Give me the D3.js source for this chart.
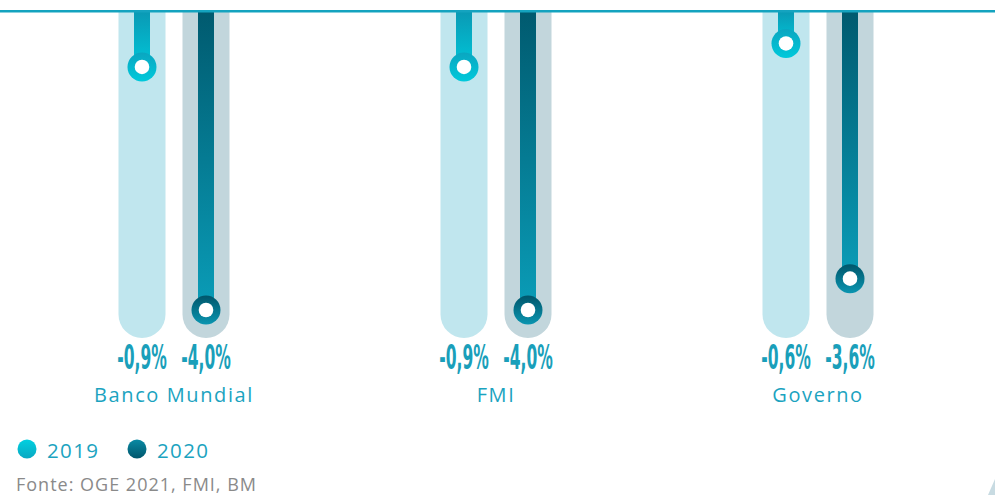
<!DOCTYPE html>
<html><head><meta charset="utf-8">
<script src="https://cdn.jsdelivr.net/npm/d3@7"></script>
<style>html,body{margin:0;padding:0;background:#fff;}svg{display:block;}</style>
</head><body>
<script>
const categories = ["Banco Mundial", "FMI", "Governo"];
const seriesNames = ["2019", "2020"];
const values2019 = [-0.9, -0.9, -0.6];
const values2020 = [-4.0, -4.0, -3.6];
const valueLabels2019 = ["-0,9%", "-0,9%", "-0,6%"];
const valueLabels2020 = ["-4,0%", "-4,0%", "-3,6%"];
const sourceText = "Fonte: OGE 2021, FMI, BM";

const W = 995, H = 495;
const svg = d3.select("body").append("svg").attr("width", W).attr("height", H);
const defs = svg.append("defs");
function grad(id, c1, c2) {
  const g = defs.append("linearGradient").attr("id", id).attr("x1", 0).attr("y1", 0).attr("x2", 0).attr("y2", 1);
  g.append("stop").attr("offset", "0%").attr("stop-color", c1);
  g.append("stop").attr("offset", "100%").attr("stop-color", c2);
}
grad("bar2019", "#0a99b4", "#00c5d8");
grad("bar2020", "#005a6f", "#0a9db8");
grad("ring2019", "#0aa6c0", "#00c9db");
grad("ring2020", "#00566b", "#0a95b0");
grad("leg2019", "#00d0e0", "#0aa8c2");
grad("leg2020", "#0a8aa4", "#00566c");

const x0 = d3.scaleBand().domain(categories).range([13, 979]);
const x1 = d3.scaleBand().domain(seriesNames).range([-64, 64]);
const y = d3.scaleLinear().domain([0, -4]).range([-3.6, 310]);

const trackTop = 12, trackBottom = 338, trackW = 47, barW = 16;
const trackColor = {"2019": "#c0e6ee", "2020": "#c2d6dc"};
const labelColor = "#1a9fba";

const data = [];
categories.forEach((c, i) => {
  data.push({cat: c, s: "2019", v: values2019[i], lab: valueLabels2019[i]});
  data.push({cat: c, s: "2020", v: values2020[i], lab: valueLabels2020[i]});
});
const cx = d => x0(d.cat) + x0.bandwidth() / 2 + x1(d.s) + x1.bandwidth() / 2;

function trackPath(xc) {
  const r = trackW / 2, l = xc - r, rr = xc + r;
  return `M${l},${trackTop} L${rr},${trackTop} L${rr},${trackBottom - r} A${r},${r} 0 0 1 ${l},${trackBottom - r} Z`;
}

const g = svg.append("g");
g.selectAll("path.track").data(data).join("path")
  .attr("class", "track")
  .attr("d", d => trackPath(cx(d)))
  .attr("fill", d => trackColor[d.s]);

const barTop = Math.max(11, y(0));
g.selectAll("rect.bar").data(data).join("rect")
  .attr("class", "bar")
  .attr("x", d => cx(d) - barW / 2)
  .attr("y", barTop)
  .attr("width", barW)
  .attr("height", d => y(d.v) - barTop)
  .attr("fill", d => `url(#bar${d.s})`);

g.selectAll("circle.ring").data(data).join("circle")
  .attr("class", "ring")
  .attr("cx", cx).attr("cy", d => y(d.v)).attr("r", 14.5)
  .attr("fill", d => `url(#ring${d.s})`);
g.selectAll("circle.hole").data(data).join("circle")
  .attr("class", "hole")
  .attr("cx", cx).attr("cy", d => y(d.v)).attr("r", 7.3)
  .attr("fill", "#fff");

// top line
svg.append("line").attr("x1", 0).attr("x2", W).attr("y1", 11.3).attr("y2", 11.3)
  .attr("stroke", "#14a3bf").attr("stroke-width", 2.5);

// value labels (condensed look)
g.selectAll("text.val").data(data).join("text")
  .attr("class", "val")
  .attr("transform", d => `translate(${cx(d)},369) scale(0.72,1.4)`)
  .attr("text-anchor", "middle")
  .attr("font-family", "'DejaVu Sans Condensed','DejaVu Sans',sans-serif")
  .attr("font-weight", "bold")
  .attr("font-size", 24)
  .attr("fill", labelColor)
  .text(d => d.lab);

// category labels
svg.selectAll("text.cat").data(categories).join("text")
  .attr("class", "cat")
  .attr("x", d => x0(d) + x0.bandwidth() / 2)
  .attr("y", 402)
  .attr("text-anchor", "middle")
  .attr("font-family", "'Open Sans',sans-serif")
  .attr("font-size", 20)
  .attr("letter-spacing", 1.6)
  .attr("fill", "#1ba3bf")
  .text(d => d);

// legend
const leg = svg.append("g");
const legX = [27, 137];
seriesNames.forEach((s, i) => {
  leg.append("circle").attr("cx", legX[i]).attr("cy", 449).attr("r", 9.5).attr("fill", `url(#leg${s})`);
  leg.append("text").attr("x", legX[i] + 20).attr("y", 457.5)
    .attr("font-family", "'Open Sans',sans-serif").attr("font-size", 20.5)
    .attr("letter-spacing", 1.4)
    .attr("fill", "#1ba3bf").text(s);
});

// source
svg.append("text").attr("x", 16).attr("y", 490.5)
  .attr("font-family", "'Open Sans',sans-serif").attr("font-size", 18)
  .attr("letter-spacing", 1)
  .attr("fill", "#8a8a8a").text(sourceText);

// corner decoration
svg.append("path").attr("d", `M${W},${H - 16} L${W},${H} L${W - 7},${H} Z`).attr("fill", "#c8dbe2");
</script>
</body></html>
